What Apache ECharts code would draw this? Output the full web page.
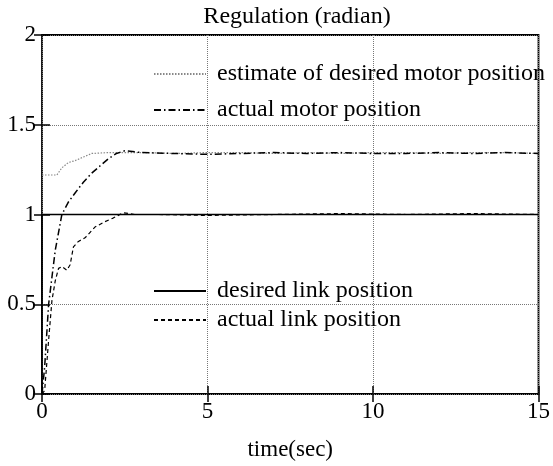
<!DOCTYPE html>
<html>
<head>
<meta charset="utf-8">
<script src="https://cdn.jsdelivr.net/npm/echarts@6/dist/echarts.min.js"></script>
<style>
  html, body { margin: 0; padding: 0; background: #fff; }
  #main { width: 553px; height: 466px; }
</style>
</head>
<body>
<div id="main"></div>
<script>
// values (time in sec, position in radian)
var estT = [0, 0.45, 0.6, 0.8, 1.0, 1.25, 1.5, 2, 3, 4, 5, 6, 7, 8, 9, 10, 11, 12, 13, 14, 15]
var estV = [1.22, 1.22, 1.26, 1.29, 1.30, 1.32, 1.34, 1.345, 1.345, 1.34, 1.345, 1.345, 1.34, 1.345, 1.34, 1.345, 1.345, 1.34, 1.345, 1.345, 1.34]

var motorT = [0, 0.08, 0.2, 0.4, 0.6, 0.8, 1.0, 1.25, 1.5, 1.75, 2.0, 2.25, 2.5, 3, 4, 5, 6, 7, 8, 9, 10, 11, 12, 13, 14, 15]
var motorV = [0, 0.15, 0.5, 0.8, 1.0, 1.07, 1.12, 1.18, 1.23, 1.27, 1.31, 1.34, 1.355, 1.345, 1.34, 1.335, 1.34, 1.345, 1.34, 1.345, 1.34, 1.34, 1.345, 1.34, 1.345, 1.34]

var desT = [0, 0, 15]
var desV = [0, 1, 1]

var linkT = [0, 0.08, 0.2, 0.3, 0.4, 0.5, 0.6, 0.75, 0.85, 0.95, 1.1, 1.3, 1.6, 1.9, 2.15, 2.45, 2.8, 3.5, 5, 7, 9, 11, 13, 15]
var linkV = [0, 0.02, 0.3, 0.52, 0.63, 0.70, 0.71, 0.69, 0.72, 0.82, 0.85, 0.87, 0.93, 0.96, 0.98, 1.01, 1.0, 1.0, 0.995, 1.0, 1.005, 1.0, 1.005, 1.0]

var xTicks = [0, 5, 10, 15]
var yTicks = [0, 0.5, 1, 1.5, 2]

var names = ['estimate of desired motor position', 'actual motor position',
  'desired link position', 'actual link position']

function pairs (t, v) {
  return t.map(function (x, i) { return [x, v[i]] })
}

var font = 'Liberation Serif, Times New Roman, serif'

var tickStyle = { show: true, inside: true, length: 8, lineStyle: { color: '#000', width: 1.5 } }
var gridLine = { show: true, lineStyle: { color: '#777', type: 'dotted', width: 1 } }

var legendText = { fontFamily: font, fontSize: 24, color: '#000', lineHeight: 26, padding: [0, 0, 0, 6] }

var myChart = echarts.init(document.getElementById('main'))
myChart.setOption({
  animation: false,
  backgroundColor: '#fff',
  title: {
    text: 'Regulation (radian)',
    left: 292, textAlign: 'center', top: 0,
    textStyle: { fontFamily: font, fontSize: 24, fontWeight: 'normal', color: '#000' }
  },
  grid: { left: 42, right: 13, top: 35, bottom: 71, show: true, borderColor: '#000', borderWidth: 1.8 },
  legend: [{
    data: names.slice(0, 2), orient: 'vertical', left: 148, top: 56, itemGap: 10,
    itemWidth: 52, itemHeight: 14, selectedMode: false, textStyle: legendText,
    itemStyle: { opacity: 0 }
  }, {
    data: names.slice(2), orient: 'vertical', left: 148, top: 273, itemGap: 3,
    itemWidth: 52, itemHeight: 14, selectedMode: false, textStyle: legendText,
    itemStyle: { opacity: 0 }
  }],
  xAxis: [{
    type: 'value', min: 0, max: 15, interval: 5,
    name: 'time(sec)', nameLocation: 'middle', nameGap: 44,
    nameTextStyle: { fontFamily: font, fontSize: 23, color: '#000' },
    axisLine: { show: false }, axisTick: tickStyle, splitLine: gridLine,
    axisLabel: { fontFamily: font, fontSize: 23, color: '#000', margin: 6,
      customValues: xTicks }
  }, {
    type: 'value', min: 0, max: 15, interval: 5, position: 'top',
    axisLine: { show: false }, axisTick: tickStyle, splitLine: { show: false },
    axisLabel: { show: false }
  }],
  yAxis: [{
    type: 'value', min: 0, max: 2, interval: 0.5,
    axisLine: { show: false }, axisTick: tickStyle, splitLine: gridLine,
    axisLabel: { fontFamily: font, fontSize: 23, color: '#000', margin: 6,
      customValues: yTicks }
  }, {
    type: 'value', min: 0, max: 2, interval: 0.5, position: 'right',
    axisLine: { show: false }, axisTick: tickStyle, splitLine: { show: false },
    axisLabel: { show: false }
  }],
  series: [{
    name: names[0], type: 'line', symbol: 'none', data: pairs(estT, estV),
    itemStyle: { color: '#888' },
    lineStyle: { color: '#888', width: 1.2, type: [1.5, 1.5] }
  }, {
    name: names[1], type: 'line', symbol: 'none', data: pairs(motorT, motorV),
    itemStyle: { color: '#000' },
    lineStyle: { color: '#000', width: 1.5, type: [7, 3, 1.5, 3] }
  }, {
    name: names[2], type: 'line', symbol: 'none', data: pairs(desT, desV),
    itemStyle: { color: '#000' },
    lineStyle: { color: '#000', width: 1.6, type: 'solid' }
  }, {
    name: names[3], type: 'line', symbol: 'none', data: pairs(linkT, linkV),
    itemStyle: { color: '#000' },
    lineStyle: { color: '#000', width: 1.2, type: [4, 3] }
  }]
})
</script>
</body>
</html>
